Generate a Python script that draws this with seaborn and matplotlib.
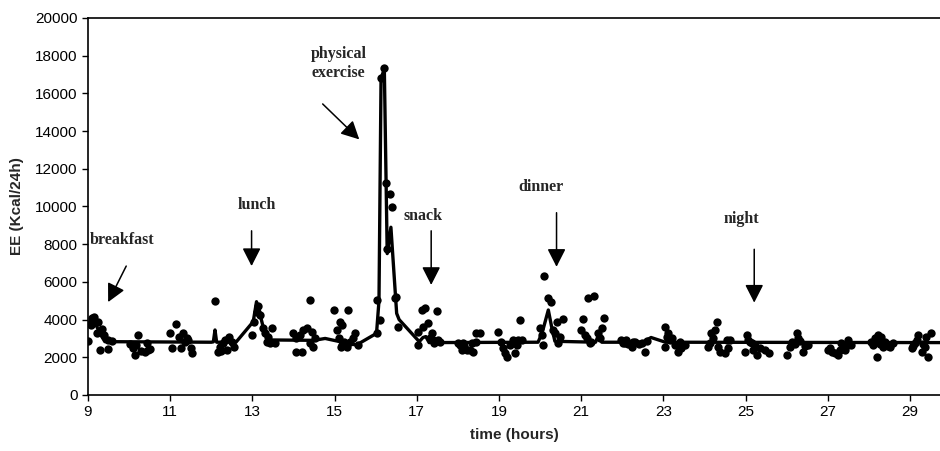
import numpy as np
import pandas as pd
import matplotlib
matplotlib.use("Agg")
import matplotlib.pyplot as plt
import seaborn as sns

# measured energy expenditure (scatter)
pts_t = [9.00, 9.07, 9.09, 9.12, 9.15, 9.21, 9.24, 9.29, 9.34, 9.40, 9.48, 9.49, 9.58,
         10.02, 10.10, 10.14, 10.18, 10.22, 10.30, 10.39, 10.43, 10.47, 10.51,
         10.99, 11.05, 11.13, 11.21, 11.26, 11.30, 11.36, 11.40, 11.44, 11.51, 11.54,
         12.09, 12.16, 12.21, 12.24, 12.29, 12.33, 12.37, 12.43, 12.50, 12.56,
         12.98, 13.05, 13.10, 13.13, 13.18, 13.27, 13.31, 13.35, 13.39, 13.43, 13.47, 13.55,
         13.99, 14.05, 14.07, 14.16, 14.20, 14.24, 14.32, 14.40, 14.40, 14.44, 14.48, 14.52,
         14.99, 15.05, 15.10, 15.13, 15.15, 15.17, 15.17, 15.22, 15.29, 15.33, 15.37, 15.45, 15.50, 15.56,
         16.02, 16.04, 16.10, 16.12, 16.21, 16.25, 16.28, 16.35, 16.39, 16.47, 16.50, 16.55,
         17.04, 17.04, 17.12, 17.16, 17.20, 17.28, 17.32, 17.36, 17.40, 17.43, 17.48, 17.52, 17.56,
         18.01, 18.05, 18.09, 18.13, 18.16, 18.22, 18.29, 18.34, 18.37, 18.43, 18.45, 18.54,
         18.98, 19.06, 19.10, 19.15, 19.19, 19.27, 19.35, 19.39, 19.43, 19.47, 19.51, 19.55,
         19.99, 20.04, 20.08, 20.10, 20.20, 20.26, 20.32, 20.36, 20.40, 20.44, 20.48, 20.56,
         21.00, 21.05, 21.09, 21.13, 21.16, 21.21, 21.25, 21.30, 21.42, 21.46, 21.50, 21.56,
         21.98, 22.02, 22.06, 22.10, 22.15, 22.23, 22.27, 22.31, 22.40, 22.47, 22.55, 22.60,
         23.04, 23.04, 23.08, 23.12, 23.16, 23.20, 23.28, 23.36, 23.40, 23.44, 23.52,
         24.09, 24.13, 24.17, 24.21, 24.25, 24.30, 24.34, 24.38, 24.50, 24.54, 24.58, 24.62,
         24.99, 25.03, 25.07, 25.11, 25.15, 25.19, 25.23, 25.27, 25.35, 25.47, 25.56,
         26.00, 26.08, 26.12, 26.20, 26.24, 26.28, 26.32, 26.40, 26.45, 26.53,
         27.01, 27.05, 27.10, 27.17, 27.25, 27.29, 27.33, 27.41, 27.45, 27.49, 27.57,
         28.06, 28.10, 28.14, 28.19, 28.22, 28.26, 28.30, 28.34, 28.40, 28.47, 28.51, 28.59,
         29.04, 29.08, 29.12, 29.16, 29.20, 29.28, 29.32, 29.36, 29.40, 29.44, 29.52]
pts_ee = [2860, 3710, 4080, 3900, 4150, 3290, 3890, 2390, 3500, 3180, 2920, 2440, 2880,
          2700, 2490, 2120, 2650, 3180, 2350, 2300, 2780, 2400, 2440,
          3290, 2480, 3750, 3090, 2480, 3270, 2830, 3000, 2920, 2480, 2210,
          5000, 2300, 2560, 2350, 2740, 2920, 2390, 3090, 2830, 2560,
          3180, 3890, 4420, 4700, 4240, 3540, 3270, 2830, 3090, 2740, 3540, 2740,
          3270, 2300, 3000, 3180, 2300, 3450, 3540, 5040, 2740, 3360, 2560, 3000,
          4510, 3450, 3000, 3890, 2560, 3700, 2650, 2800, 2560, 4510, 2830, 3000, 3270, 2650,
          5040, 3300, 3980, 16800, 17330, 11260, 7730, 10650, 9990, 5130, 5220, 3600,
          2650, 3360, 4510, 3620, 4600, 3800, 3000, 3270, 2920, 2740, 4470, 2920, 2800,
          2780, 2650, 2390, 2780, 2600, 2400, 2390, 2780, 2300, 2830, 3270, 3270,
          3360, 2830, 2480, 2210, 2030, 2650, 2920, 2210, 2650, 2900, 3980, 2920,
          3540, 3180, 2650, 6310, 5130, 4950, 3450, 3300, 3890, 2740, 3090, 4010,
          3450, 4010, 3200, 3000, 5130, 2740, 2800, 5250, 3270, 3000, 3540, 4070,
          2920, 2750, 2740, 2900, 2700, 2560, 2800, 2830, 2700, 2750, 2300, 2850,
          3620, 2560, 3100, 3270, 2900, 3000, 2650, 2300, 2830, 2480, 2650,
          2560, 2740, 3270, 3000, 3450, 3890, 2560, 2300, 2210, 2920, 2480, 2920,
          2300, 3180, 2920, 2800, 2740, 2390, 2600, 2120, 2500, 2390, 2210,
          2120, 2560, 2830, 2700, 3270, 3000, 2850, 2300, 2600, 2650,
          2390, 2500, 2300, 2210, 2120, 2400, 2740, 2390, 2600, 2920, 2650,
          2830, 2650, 3000, 2030, 3180, 2700, 3090, 2560, 2800, 2600, 2560, 2740,
          2480, 2600, 2740, 2900, 3180, 2300, 2700, 2560, 3090, 2030, 3270]

# model curve
line_t = [9.00, 9.08, 9.18, 9.28, 9.41, 12.00, 12.05, 12.09, 12.13, 12.60,
          13.02, 13.10, 13.18, 13.31, 13.45, 14.50, 14.77, 15.13, 15.53, 16.02,
          16.08, 16.13, 16.21, 16.28, 16.37, 16.51, 16.57, 17.06, 17.15, 17.22,
          17.30, 19.95, 20.05, 20.20, 20.28, 20.36, 21.35, 21.42, 21.50, 22.50,
          22.70, 23.05, 29.75]
line_ee = [3800, 3950, 3800, 3300, 2830, 2800, 2820, 3450, 2800, 2800,
           3890, 4950, 4330, 3180, 2920, 2900, 3000, 2830, 2650, 3270,
           5000, 16800, 17300, 7500, 8900, 4330, 4000, 2830, 3050, 3100,
           2780, 2800, 3300, 4510, 3620, 2850, 2800, 3180, 2800, 2800,
           3050, 2800, 2780]

# annotations: label, text position, arrow tail, arrow tip
ann_labels = ["breakfast", "lunch", "physical\nexercise", "snack", "dinner", "night"]
ann_text_xy = [(9.05, 8200), (13.1, 10100), (15.1, 17600), (17.16, 9500), (20.02, 11050), (24.9, 9340)]
ann_tail = [(9.93, 6840), (12.98, 8710), (14.71, 15440), (17.35, 8710), (20.40, 9670), (25.21, 7730)]
ann_tip = [(9.49, 4930), (12.98, 6840), (15.60, 13560), (17.35, 5840), (20.40, 6800), (25.21, 4900)]

pts = pd.DataFrame({"t": pts_t, "ee": pts_ee})
curve = pd.DataFrame({"t": line_t, "ee": line_ee})

sns.set_style("ticks")
plt.rcParams["font.family"] = ["Liberation Sans", "DejaVu Sans"]

fig = plt.figure(figsize=(9.4, 4.51), dpi=100)
ax = fig.add_axes([88 / 940, 56 / 451, 852 / 940, 377 / 451])

sns.lineplot(x="t", y="ee", data=curve, color="black", linewidth=2.4,
             estimator=None, sort=False, ax=ax, zorder=3)
sns.scatterplot(x="t", y="ee", data=pts, color="black", s=36, edgecolor="black",
                linewidth=0, ax=ax, zorder=4)

for lab, txy, tail, tip in zip(ann_labels, ann_text_xy, ann_tail, ann_tip):
    ha = "left" if lab == "breakfast" else "center"
    ax.text(txy[0], txy[1], lab, ha=ha, va="center", fontsize=11.5,
            fontweight="bold", family="Liberation Serif", linespacing=1.25)
    ax.annotate("", xy=tip, xytext=tail,
                arrowprops=dict(arrowstyle="-|>,head_length=0.55,head_width=0.28",
                                color="black", lw=1.1, mutation_scale=20,
                                shrinkA=0, shrinkB=0))

ax.set_xlim(9, 29.73)
ax.set_ylim(0, 20000)
ax.set_xticks(range(9, 30, 2))
ax.set_yticks(range(0, 20001, 2000))
ax.tick_params(direction="out", length=4, width=1, colors="black", labelsize=11)
for side in ["left", "bottom", "top"]:
    ax.spines[side].set_linewidth(1.2)
    ax.spines[side].set_color("black")
ax.spines["right"].set_visible(False)

ax.set_xlabel("time (hours)", fontsize=11, fontweight="bold", labelpad=6)
ax.set_ylabel("EE (Kcal/24h)", fontsize=11, fontweight="bold", labelpad=8)

fig.savefig("out.png", dpi=100)
